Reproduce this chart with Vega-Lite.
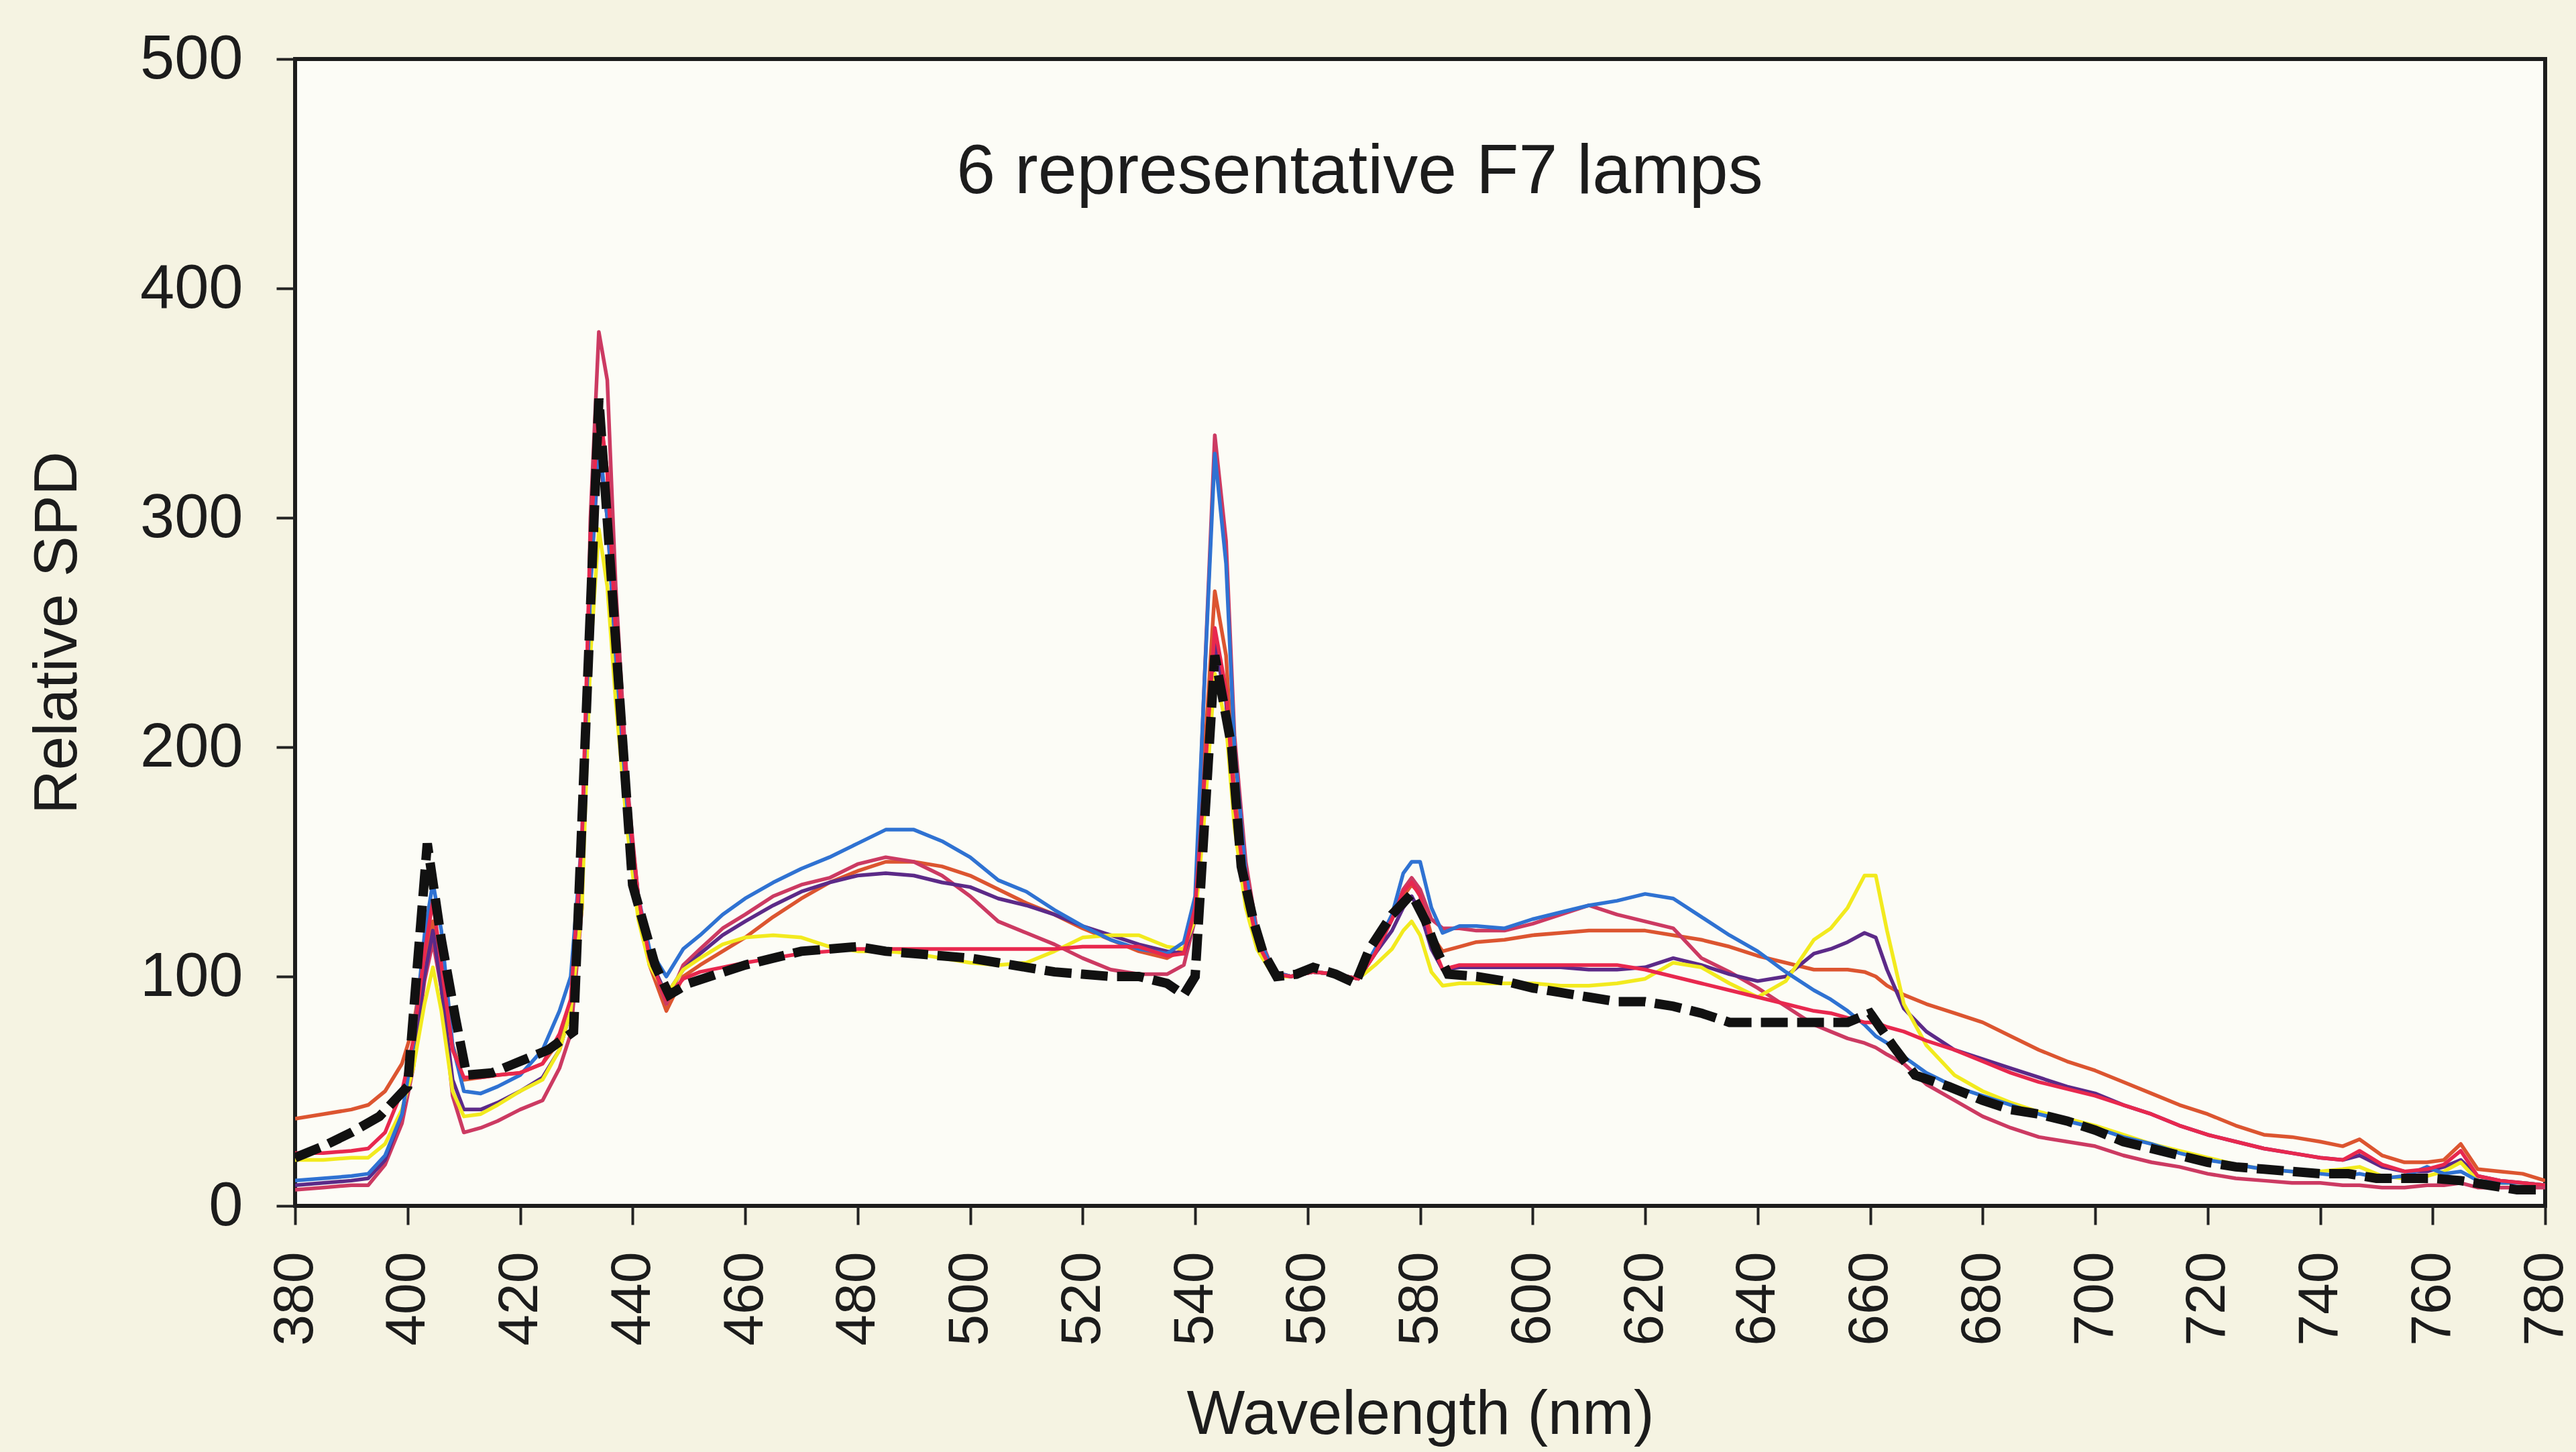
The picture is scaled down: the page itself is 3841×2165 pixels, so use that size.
{
  "$schema": "https://vega.github.io/schema/vega-lite/v6.json",
  "autosize": {"type": "none"},
  "padding": {"left": 440, "top": 88, "right": 46, "bottom": 367},
  "width": 3355,
  "height": 1710,
  "background": "#f5f3e2",
  "title": {
    "text": "6 representative F7 lamps",
    "font": "Liberation Sans",
    "fontSize": 104,
    "fontWeight": "normal",
    "color": "#1c1c1c",
    "anchor": "middle",
    "frame": "group",
    "baseline": "alphabetic",
    "offset": -350,
    "dx": -90
  },
  "config": {
    "font": "Liberation Sans",
    "view": {"fill": "#fcfcf6", "stroke": "#1c1c1c", "strokeWidth": 6},
    "axis": {
      "domain": false,
      "grid": false,
      "labelFont": "Liberation Sans",
      "titleFont": "Liberation Sans",
      "labelColor": "#1c1c1c",
      "titleColor": "#1c1c1c",
      "titleFontWeight": "normal",
      "tickColor": "#222222",
      "tickWidth": 4,
      "tickSize": 28
    }
  },
  "layer": [
    {
      "data": {
        "values": [
          {"nm": 380, "lamp1": 11, "lamp2": 38, "lamp3": 7, "lamp4": 9, "lamp5": 20, "lamp6": 23},
          {"nm": 385, "lamp1": 12, "lamp2": 40, "lamp3": 8, "lamp4": 10, "lamp5": 20, "lamp6": 23},
          {"nm": 390, "lamp1": 13, "lamp2": 42, "lamp3": 9, "lamp4": 11, "lamp5": 21, "lamp6": 24},
          {"nm": 393, "lamp1": 14, "lamp2": 44, "lamp3": 9, "lamp4": 12, "lamp5": 21, "lamp6": 25},
          {"nm": 396, "lamp1": 22, "lamp2": 50, "lamp3": 18, "lamp4": 20, "lamp5": 27, "lamp6": 32},
          {"nm": 399, "lamp1": 40, "lamp2": 62, "lamp3": 36, "lamp4": 40, "lamp5": 42, "lamp6": 50},
          {"nm": 401, "lamp1": 70, "lamp2": 78, "lamp3": 60, "lamp4": 65, "lamp5": 60, "lamp6": 72},
          {"nm": 403, "lamp1": 118, "lamp2": 108, "lamp3": 98, "lamp4": 100, "lamp5": 88, "lamp6": 110},
          {"nm": 404.5, "lamp1": 141, "lamp2": 124, "lamp3": 115, "lamp4": 120, "lamp5": 104, "lamp6": 133},
          {"nm": 406, "lamp1": 120, "lamp2": 100, "lamp3": 95, "lamp4": 95, "lamp5": 85, "lamp6": 105},
          {"nm": 408, "lamp1": 70, "lamp2": 70, "lamp3": 48, "lamp4": 55, "lamp5": 50, "lamp6": 68},
          {"nm": 410, "lamp1": 50, "lamp2": 55, "lamp3": 32, "lamp4": 42, "lamp5": 39, "lamp6": 56},
          {"nm": 413, "lamp1": 49, "lamp2": 56, "lamp3": 34, "lamp4": 42, "lamp5": 40, "lamp6": 56},
          {"nm": 416, "lamp1": 52, "lamp2": 57, "lamp3": 37, "lamp4": 45, "lamp5": 44, "lamp6": 57},
          {"nm": 420, "lamp1": 57, "lamp2": 58, "lamp3": 42, "lamp4": 50, "lamp5": 50, "lamp6": 58},
          {"nm": 424, "lamp1": 68, "lamp2": 62, "lamp3": 46, "lamp4": 56, "lamp5": 55, "lamp6": 62},
          {"nm": 427, "lamp1": 85, "lamp2": 72, "lamp3": 60, "lamp4": 68, "lamp5": 68, "lamp6": 75},
          {"nm": 429, "lamp1": 100, "lamp2": 88, "lamp3": 75, "lamp4": 85, "lamp5": 85, "lamp6": 90},
          {"nm": 431, "lamp1": 160, "lamp2": 150, "lamp3": 130, "lamp4": 145, "lamp5": 130, "lamp6": 160},
          {"nm": 432.5, "lamp1": 270, "lamp2": 280, "lamp3": 300, "lamp4": 270, "lamp5": 240, "lamp6": 290},
          {"nm": 434, "lamp1": 335, "lamp2": 348, "lamp3": 381, "lamp4": 330, "lamp5": 295, "lamp6": 350},
          {"nm": 435.5, "lamp1": 300, "lamp2": 320, "lamp3": 360, "lamp4": 300, "lamp5": 270, "lamp6": 320},
          {"nm": 437, "lamp1": 240, "lamp2": 250, "lamp3": 270, "lamp4": 240, "lamp5": 220, "lamp6": 250},
          {"nm": 439, "lamp1": 175, "lamp2": 180, "lamp3": 185, "lamp4": 175, "lamp5": 165, "lamp6": 180},
          {"nm": 441, "lamp1": 135, "lamp2": 135, "lamp3": 135, "lamp4": 130, "lamp5": 125, "lamp6": 135},
          {"nm": 443, "lamp1": 112, "lamp2": 105, "lamp3": 108, "lamp4": 108, "lamp5": 105, "lamp6": 108},
          {"nm": 446, "lamp1": 100, "lamp2": 85, "lamp3": 88, "lamp4": 92, "lamp5": 92, "lamp6": 90},
          {"nm": 449, "lamp1": 112, "lamp2": 100, "lamp3": 105, "lamp4": 103, "lamp5": 103, "lamp6": 99},
          {"nm": 452, "lamp1": 118, "lamp2": 105, "lamp3": 112, "lamp4": 110, "lamp5": 108, "lamp6": 102},
          {"nm": 456, "lamp1": 127, "lamp2": 111, "lamp3": 121, "lamp4": 118, "lamp5": 114, "lamp6": 104},
          {"nm": 460, "lamp1": 134, "lamp2": 117, "lamp3": 127, "lamp4": 124, "lamp5": 117, "lamp6": 106},
          {"nm": 465, "lamp1": 141, "lamp2": 126, "lamp3": 135, "lamp4": 131, "lamp5": 118, "lamp6": 108},
          {"nm": 470, "lamp1": 147, "lamp2": 134, "lamp3": 140, "lamp4": 137, "lamp5": 117, "lamp6": 110},
          {"nm": 475, "lamp1": 152, "lamp2": 141, "lamp3": 143, "lamp4": 141, "lamp5": 113, "lamp6": 111},
          {"nm": 480, "lamp1": 158, "lamp2": 146, "lamp3": 149, "lamp4": 144, "lamp5": 111, "lamp6": 112},
          {"nm": 485, "lamp1": 164, "lamp2": 150, "lamp3": 152, "lamp4": 145, "lamp5": 111, "lamp6": 112},
          {"nm": 490, "lamp1": 164, "lamp2": 150, "lamp3": 150, "lamp4": 144, "lamp5": 110, "lamp6": 112},
          {"nm": 495, "lamp1": 159, "lamp2": 148, "lamp3": 144, "lamp4": 141, "lamp5": 108, "lamp6": 112},
          {"nm": 500, "lamp1": 152, "lamp2": 144, "lamp3": 135, "lamp4": 139, "lamp5": 106, "lamp6": 112},
          {"nm": 505, "lamp1": 142, "lamp2": 138, "lamp3": 124, "lamp4": 134, "lamp5": 105, "lamp6": 112},
          {"nm": 510, "lamp1": 137, "lamp2": 132, "lamp3": 119, "lamp4": 131, "lamp5": 106, "lamp6": 112},
          {"nm": 515, "lamp1": 129, "lamp2": 127, "lamp3": 114, "lamp4": 127, "lamp5": 111, "lamp6": 112},
          {"nm": 520, "lamp1": 122, "lamp2": 121, "lamp3": 108, "lamp4": 122, "lamp5": 117, "lamp6": 113},
          {"nm": 525, "lamp1": 116, "lamp2": 116, "lamp3": 103, "lamp4": 118, "lamp5": 118, "lamp6": 113},
          {"nm": 530, "lamp1": 112, "lamp2": 111, "lamp3": 101, "lamp4": 114, "lamp5": 118, "lamp6": 113},
          {"nm": 535, "lamp1": 110, "lamp2": 108, "lamp3": 101, "lamp4": 111, "lamp5": 113, "lamp6": 109},
          {"nm": 538, "lamp1": 115, "lamp2": 112, "lamp3": 105, "lamp4": 110, "lamp5": 112, "lamp6": 110},
          {"nm": 540, "lamp1": 135, "lamp2": 130, "lamp3": 125, "lamp4": 125, "lamp5": 125, "lamp6": 130},
          {"nm": 541.5, "lamp1": 220, "lamp2": 190, "lamp3": 220, "lamp4": 170, "lamp5": 165, "lamp6": 180},
          {"nm": 543.5, "lamp1": 328, "lamp2": 268, "lamp3": 336, "lamp4": 245, "lamp5": 232, "lamp6": 252},
          {"nm": 545.5, "lamp1": 280, "lamp2": 240, "lamp3": 290, "lamp4": 220, "lamp5": 210, "lamp6": 225},
          {"nm": 547, "lamp1": 200, "lamp2": 180, "lamp3": 205, "lamp4": 170, "lamp5": 165, "lamp6": 175},
          {"nm": 549, "lamp1": 145, "lamp2": 140, "lamp3": 150, "lamp4": 135, "lamp5": 130, "lamp6": 138},
          {"nm": 551, "lamp1": 118, "lamp2": 118, "lamp3": 120, "lamp4": 115, "lamp5": 112, "lamp6": 115},
          {"nm": 554, "lamp1": 102, "lamp2": 102, "lamp3": 102, "lamp4": 101, "lamp5": 100, "lamp6": 101},
          {"nm": 557, "lamp1": 100, "lamp2": 100, "lamp3": 100, "lamp4": 100, "lamp5": 100, "lamp6": 100},
          {"nm": 561, "lamp1": 102, "lamp2": 102, "lamp3": 102, "lamp4": 102, "lamp5": 102, "lamp6": 102},
          {"nm": 565, "lamp1": 101, "lamp2": 101, "lamp3": 101, "lamp4": 101, "lamp5": 101, "lamp6": 101},
          {"nm": 569, "lamp1": 99, "lamp2": 99, "lamp3": 99, "lamp4": 99, "lamp5": 99, "lamp6": 99},
          {"nm": 572, "lamp1": 112, "lamp2": 110, "lamp3": 110, "lamp4": 110, "lamp5": 105, "lamp6": 110},
          {"nm": 575, "lamp1": 127, "lamp2": 125, "lamp3": 125, "lamp4": 120, "lamp5": 112, "lamp6": 125},
          {"nm": 577, "lamp1": 145, "lamp2": 135, "lamp3": 138, "lamp4": 130, "lamp5": 120, "lamp6": 137},
          {"nm": 578.5, "lamp1": 150, "lamp2": 140, "lamp3": 143, "lamp4": 135, "lamp5": 124, "lamp6": 141},
          {"nm": 580, "lamp1": 150, "lamp2": 136, "lamp3": 138, "lamp4": 128, "lamp5": 118, "lamp6": 135},
          {"nm": 582, "lamp1": 130, "lamp2": 118, "lamp3": 125, "lamp4": 112, "lamp5": 102, "lamp6": 115},
          {"nm": 584, "lamp1": 119, "lamp2": 111, "lamp3": 121, "lamp4": 103, "lamp5": 96, "lamp6": 103},
          {"nm": 587, "lamp1": 122, "lamp2": 113, "lamp3": 121, "lamp4": 104, "lamp5": 97, "lamp6": 105},
          {"nm": 590, "lamp1": 122, "lamp2": 115, "lamp3": 120, "lamp4": 104, "lamp5": 97, "lamp6": 105},
          {"nm": 595, "lamp1": 121, "lamp2": 116, "lamp3": 120, "lamp4": 104, "lamp5": 97, "lamp6": 105},
          {"nm": 600, "lamp1": 125, "lamp2": 118, "lamp3": 123, "lamp4": 104, "lamp5": 97, "lamp6": 105},
          {"nm": 605, "lamp1": 128, "lamp2": 119, "lamp3": 127, "lamp4": 104, "lamp5": 96, "lamp6": 105},
          {"nm": 610, "lamp1": 131, "lamp2": 120, "lamp3": 131, "lamp4": 103, "lamp5": 96, "lamp6": 105},
          {"nm": 615, "lamp1": 133, "lamp2": 120, "lamp3": 127, "lamp4": 103, "lamp5": 97, "lamp6": 105},
          {"nm": 620, "lamp1": 136, "lamp2": 120, "lamp3": 124, "lamp4": 104, "lamp5": 99, "lamp6": 103},
          {"nm": 625, "lamp1": 134, "lamp2": 118, "lamp3": 121, "lamp4": 108, "lamp5": 106, "lamp6": 100},
          {"nm": 630, "lamp1": 126, "lamp2": 116, "lamp3": 108, "lamp4": 105, "lamp5": 104, "lamp6": 97},
          {"nm": 635, "lamp1": 118, "lamp2": 113, "lamp3": 102, "lamp4": 101, "lamp5": 97, "lamp6": 94},
          {"nm": 640, "lamp1": 111, "lamp2": 109, "lamp3": 95, "lamp4": 98, "lamp5": 91, "lamp6": 91},
          {"nm": 645, "lamp1": 102, "lamp2": 106, "lamp3": 87, "lamp4": 100, "lamp5": 98, "lamp6": 88},
          {"nm": 650, "lamp1": 94, "lamp2": 103, "lamp3": 79, "lamp4": 110, "lamp5": 116, "lamp6": 85},
          {"nm": 653, "lamp1": 90, "lamp2": 103, "lamp3": 76, "lamp4": 112, "lamp5": 121, "lamp6": 84},
          {"nm": 656, "lamp1": 85, "lamp2": 103, "lamp3": 73, "lamp4": 115, "lamp5": 130, "lamp6": 82},
          {"nm": 659, "lamp1": 79, "lamp2": 102, "lamp3": 71, "lamp4": 119, "lamp5": 144, "lamp6": 80},
          {"nm": 661, "lamp1": 74, "lamp2": 100, "lamp3": 69, "lamp4": 117, "lamp5": 144, "lamp6": 80},
          {"nm": 663, "lamp1": 71, "lamp2": 96, "lamp3": 66, "lamp4": 103, "lamp5": 120, "lamp6": 78},
          {"nm": 666, "lamp1": 65, "lamp2": 92, "lamp3": 62, "lamp4": 86, "lamp5": 88, "lamp6": 76},
          {"nm": 670, "lamp1": 58, "lamp2": 88, "lamp3": 53, "lamp4": 76, "lamp5": 70, "lamp6": 72},
          {"nm": 675, "lamp1": 52, "lamp2": 84, "lamp3": 46, "lamp4": 68, "lamp5": 57, "lamp6": 68},
          {"nm": 680, "lamp1": 48, "lamp2": 80, "lamp3": 39, "lamp4": 64, "lamp5": 50, "lamp6": 63},
          {"nm": 685, "lamp1": 44, "lamp2": 74, "lamp3": 34, "lamp4": 60, "lamp5": 45, "lamp6": 58},
          {"nm": 690, "lamp1": 40, "lamp2": 68, "lamp3": 30, "lamp4": 56, "lamp5": 41, "lamp6": 54},
          {"nm": 695, "lamp1": 37, "lamp2": 63, "lamp3": 28, "lamp4": 52, "lamp5": 38, "lamp6": 51},
          {"nm": 700, "lamp1": 34, "lamp2": 59, "lamp3": 26, "lamp4": 49, "lamp5": 35, "lamp6": 48},
          {"nm": 705, "lamp1": 30, "lamp2": 54, "lamp3": 22, "lamp4": 44, "lamp5": 31, "lamp6": 44},
          {"nm": 710, "lamp1": 27, "lamp2": 49, "lamp3": 19, "lamp4": 40, "lamp5": 27, "lamp6": 40},
          {"nm": 715, "lamp1": 23, "lamp2": 44, "lamp3": 17, "lamp4": 35, "lamp5": 24, "lamp6": 35},
          {"nm": 720, "lamp1": 20, "lamp2": 40, "lamp3": 14, "lamp4": 31, "lamp5": 21, "lamp6": 31},
          {"nm": 725, "lamp1": 18, "lamp2": 35, "lamp3": 12, "lamp4": 28, "lamp5": 18, "lamp6": 28},
          {"nm": 730, "lamp1": 16, "lamp2": 31, "lamp3": 11, "lamp4": 25, "lamp5": 16, "lamp6": 25},
          {"nm": 735, "lamp1": 15, "lamp2": 30, "lamp3": 10, "lamp4": 23, "lamp5": 15, "lamp6": 23},
          {"nm": 740, "lamp1": 14, "lamp2": 28, "lamp3": 10, "lamp4": 21, "lamp5": 15, "lamp6": 21},
          {"nm": 744, "lamp1": 13, "lamp2": 26, "lamp3": 9, "lamp4": 20, "lamp5": 16, "lamp6": 20},
          {"nm": 747, "lamp1": 14, "lamp2": 29, "lamp3": 9, "lamp4": 22, "lamp5": 17, "lamp6": 24},
          {"nm": 751, "lamp1": 12, "lamp2": 22, "lamp3": 8, "lamp4": 17, "lamp5": 13, "lamp6": 18},
          {"nm": 755, "lamp1": 13, "lamp2": 19, "lamp3": 8, "lamp4": 15, "lamp5": 12, "lamp6": 15},
          {"nm": 759, "lamp1": 17, "lamp2": 19, "lamp3": 9, "lamp4": 15, "lamp5": 13, "lamp6": 16},
          {"nm": 762, "lamp1": 14, "lamp2": 20, "lamp3": 9, "lamp4": 17, "lamp5": 15, "lamp6": 18},
          {"nm": 765, "lamp1": 15, "lamp2": 27, "lamp3": 10, "lamp4": 20, "lamp5": 19, "lamp6": 24},
          {"nm": 768, "lamp1": 11, "lamp2": 16, "lamp3": 8, "lamp4": 13, "lamp5": 11, "lamp6": 13},
          {"nm": 772, "lamp1": 10, "lamp2": 15, "lamp3": 8, "lamp4": 11, "lamp5": 10, "lamp6": 11},
          {"nm": 776, "lamp1": 10, "lamp2": 14, "lamp3": 8, "lamp4": 10, "lamp5": 10, "lamp6": 10},
          {"nm": 780, "lamp1": 9, "lamp2": 11, "lamp3": 8, "lamp4": 9, "lamp5": 9, "lamp6": 9}
        ]
      },
      "transform": [
        {"fold": ["lamp2", "lamp3", "lamp4", "lamp5", "lamp1", "lamp6"], "as": ["lamp", "spd"]}
      ],
      "mark": {"type": "line", "strokeWidth": 5.5, "strokeJoin": "round", "clip": true},
      "encoding": {
        "x": {
          "field": "nm",
          "type": "quantitative",
          "scale": {"domain": [380, 780], "nice": false, "zero": false},
          "axis": {
            "title": "Wavelength (nm)",
            "values": [380, 400, 420, 440, 460, 480, 500, 520, 540, 560, 580, 600, 620, 640, 660, 680, 700, 720, 740, 760, 780],
            "labelAngle": -90,
            "labelFontSize": 84,
            "labelPadding": 40,
            "titleFontSize": 92,
            "titlePadding": 66
          }
        },
        "y": {
          "field": "spd",
          "type": "quantitative",
          "scale": {"domain": [0, 500], "nice": false},
          "axis": {
            "title": "Relative SPD",
            "values": [0, 100, 200, 300, 400, 500],
            "labelFontSize": 92,
            "labelPadding": 50,
            "titleFontSize": 91,
            "titlePadding": 108
          }
        },
        "color": {
          "field": "lamp",
          "type": "nominal",
          "scale": {
            "domain": ["lamp1", "lamp2", "lamp3", "lamp4", "lamp5", "lamp6"],
            "range": ["#2f72d2", "#dc5530", "#cc3a62", "#5c2a88", "#f2ea1e", "#e8284e"]
          },
          "legend": null
        }
      }
    },
    {
      "data": {
        "values": [
          {"nm": 380, "spd": 21}, {"nm": 385, "spd": 26}, {"nm": 390, "spd": 32}, {"nm": 395, "spd": 39},
          {"nm": 400, "spd": 52}, {"nm": 403.5, "spd": 158}, {"nm": 406, "spd": 116}, {"nm": 408.5, "spd": 82},
          {"nm": 410.5, "spd": 57}, {"nm": 415, "spd": 58}, {"nm": 420, "spd": 63}, {"nm": 425, "spd": 68},
          {"nm": 429.5, "spd": 76}, {"nm": 434, "spd": 352}, {"nm": 440, "spd": 140}, {"nm": 444, "spd": 105},
          {"nm": 446.5, "spd": 92}, {"nm": 450, "spd": 97}, {"nm": 455, "spd": 101}, {"nm": 460, "spd": 105},
          {"nm": 465, "spd": 108}, {"nm": 470, "spd": 111}, {"nm": 475, "spd": 112}, {"nm": 480, "spd": 113},
          {"nm": 485, "spd": 111}, {"nm": 490, "spd": 110}, {"nm": 495, "spd": 109}, {"nm": 500, "spd": 108},
          {"nm": 505, "spd": 106}, {"nm": 510, "spd": 104}, {"nm": 515, "spd": 102}, {"nm": 520, "spd": 101},
          {"nm": 525, "spd": 100}, {"nm": 530, "spd": 100}, {"nm": 535, "spd": 97}, {"nm": 538, "spd": 92},
          {"nm": 540, "spd": 100}, {"nm": 543.5, "spd": 240}, {"nm": 546.5, "spd": 200}, {"nm": 548.2, "spd": 148},
          {"nm": 550.4, "spd": 124}, {"nm": 552, "spd": 111}, {"nm": 554.5, "spd": 100}, {"nm": 558, "spd": 101},
          {"nm": 561, "spd": 104}, {"nm": 565, "spd": 101}, {"nm": 568.5, "spd": 97}, {"nm": 571, "spd": 112},
          {"nm": 575, "spd": 127}, {"nm": 578.5, "spd": 136}, {"nm": 581, "spd": 124}, {"nm": 583, "spd": 111},
          {"nm": 585, "spd": 101}, {"nm": 590, "spd": 100}, {"nm": 595, "spd": 98}, {"nm": 600, "spd": 95},
          {"nm": 605, "spd": 93}, {"nm": 610, "spd": 91}, {"nm": 615, "spd": 89}, {"nm": 620, "spd": 89},
          {"nm": 625, "spd": 87}, {"nm": 630, "spd": 84}, {"nm": 635, "spd": 80}, {"nm": 640, "spd": 80},
          {"nm": 645, "spd": 80}, {"nm": 650, "spd": 80}, {"nm": 656, "spd": 80}, {"nm": 660, "spd": 84},
          {"nm": 664, "spd": 70}, {"nm": 668, "spd": 57}, {"nm": 674, "spd": 52}, {"nm": 680, "spd": 46},
          {"nm": 685, "spd": 42}, {"nm": 690, "spd": 40}, {"nm": 695, "spd": 37}, {"nm": 700, "spd": 33},
          {"nm": 705, "spd": 28}, {"nm": 710, "spd": 25}, {"nm": 715, "spd": 22}, {"nm": 720, "spd": 19},
          {"nm": 725, "spd": 17}, {"nm": 730, "spd": 16}, {"nm": 735, "spd": 15}, {"nm": 740, "spd": 14},
          {"nm": 745, "spd": 14}, {"nm": 750, "spd": 12}, {"nm": 755, "spd": 12}, {"nm": 760, "spd": 12},
          {"nm": 765, "spd": 11}, {"nm": 770, "spd": 9}, {"nm": 775, "spd": 7}, {"nm": 780, "spd": 7}
        ]
      },
      "mark": {"type": "line", "color": "#111111", "strokeWidth": 14, "strokeDash": [40, 14], "clip": true},
      "encoding": {
        "x": {"field": "nm", "type": "quantitative"},
        "y": {"field": "spd", "type": "quantitative"}
      }
    }
  ]
}
